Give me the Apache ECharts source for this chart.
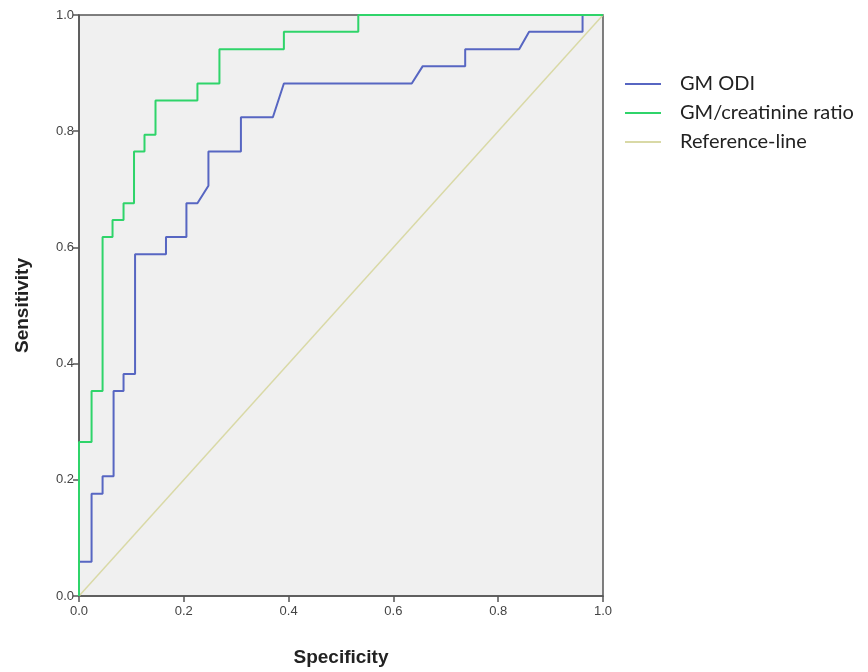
<!DOCTYPE html>
<html>
<head>
<meta charset="UTF-8">
<title>ROC curves</title>
<script src="https://cdn.jsdelivr.net/npm/echarts@6/dist/echarts.min.js"></script>
<style>
  html, body { margin: 0; padding: 0; background: #fff; }
  #chart { width: 868px; height: 672px; }
</style>
</head>
<body>
<div id="chart"></div>
<script>
// ROC points (x = 1 - specificity, y = sensitivity)
var odiX = [0, 0, 0.024, 0.024, 0.045, 0.045, 0.066, 0.066, 0.085, 0.085, 0.107, 0.107, 0.166, 0.166, 0.205, 0.205,
            0.226, 0.247, 0.247, 0.309, 0.309, 0.370, 0.391, 0.635, 0.656, 0.737, 0.737, 0.840, 0.859, 0.961, 0.961, 1];
var odiY = [0, 0.059, 0.059, 0.176, 0.176, 0.206, 0.206, 0.353, 0.353, 0.382, 0.382, 0.588, 0.588, 0.618, 0.618, 0.676,
            0.676, 0.706, 0.765, 0.765, 0.824, 0.824, 0.882, 0.882, 0.912, 0.912, 0.941, 0.941, 0.971, 0.971, 1, 1];

var ratioX = [0, 0, 0.024, 0.024, 0.045, 0.045, 0.064, 0.064, 0.085, 0.085, 0.105, 0.105, 0.125, 0.125,
              0.146, 0.146, 0.226, 0.226, 0.268, 0.268, 0.391, 0.391, 0.533, 0.533, 1];
var ratioY = [0, 0.265, 0.265, 0.353, 0.353, 0.618, 0.618, 0.647, 0.647, 0.676, 0.676, 0.765, 0.765, 0.794,
              0.794, 0.853, 0.853, 0.882, 0.882, 0.941, 0.941, 0.971, 0.971, 1, 1];

var refX = [0, 1];
var refY = [0, 1];

var seriesNames = ['GM ODI', 'GM/creatinine ratio', 'Reference-line'];

function pairs(xs, ys) {
    return xs.map(function (x, i) { return [x, ys[i]]; });
}

var chart = echarts.init(document.getElementById('chart'));
chart.setOption({
    animation: false,
    backgroundColor: '#ffffff',
    grid: {
        left: 79, top: 15, width: 524, height: 582,
        show: true, backgroundColor: '#f0f0f0',
        borderColor: '#555', borderWidth: 1.5
    },
    legend: {
        orient: 'vertical',
        left: 620, top: 69,
        icon: 'rect', itemWidth: 36, itemHeight: 2,
        itemGap: 9,
        data: seriesNames,
        textStyle: {
            fontFamily: 'Lato', fontSize: 20, color: '#222',
            padding: [0, 0, 0, 14]
        }
    },
    xAxis: {
        type: 'value', min: 0, max: 1, interval: 0.2,
        name: 'Specificity', nameLocation: 'middle', nameGap: 52,
        nameTextStyle: { fontFamily: 'Liberation Sans', fontWeight: 'bold', fontSize: 19, color: '#222' },
        axisLine: { show: true, onZero: false, lineStyle: { color: '#555', width: 1.5 } },
        axisTick: { show: true, length: 6, lineStyle: { color: '#555', width: 1.5 } },
        axisLabel: {
            fontFamily: 'Liberation Sans', fontSize: 13, color: '#444', margin: 9,
            formatter: function (v) { return v.toFixed(1); }
        },
        splitLine: { show: false }
    },
    yAxis: {
        type: 'value', min: 0, max: 1, interval: 0.2,
        name: 'Sensitivity', nameLocation: 'middle', nameGap: 47,
        nameTextStyle: { fontFamily: 'Liberation Sans', fontWeight: 'bold', fontSize: 19, color: '#222' },
        axisLine: { show: true, onZero: false, lineStyle: { color: '#555', width: 1.5 } },
        axisTick: { show: true, length: 6, lineStyle: { color: '#555', width: 1.5 } },
        axisLabel: {
            fontFamily: 'Liberation Sans', fontSize: 13, color: '#444', margin: 5,
            formatter: function (v) { return v.toFixed(1); }
        },
        splitLine: { show: false }
    },
    series: [
        {
            name: seriesNames[2], type: 'line', symbol: 'none',
            data: pairs(refX, refY),
            lineStyle: { color: '#d9d9a6', width: 1.5 },
            itemStyle: { color: '#d9d9a6' }, z: 1
        },
        {
            name: seriesNames[0], type: 'line', symbol: 'none',
            data: pairs(odiX, odiY),
            lineStyle: { color: '#5766c2', width: 2 },
            itemStyle: { color: '#5766c2' }, z: 2
        },
        {
            name: seriesNames[1], type: 'line', symbol: 'none',
            data: pairs(ratioX, ratioY),
            lineStyle: { color: '#2fd46a', width: 2 },
            itemStyle: { color: '#2fd46a' }, z: 3
        }
    ]
});
</script>
</body>
</html>
